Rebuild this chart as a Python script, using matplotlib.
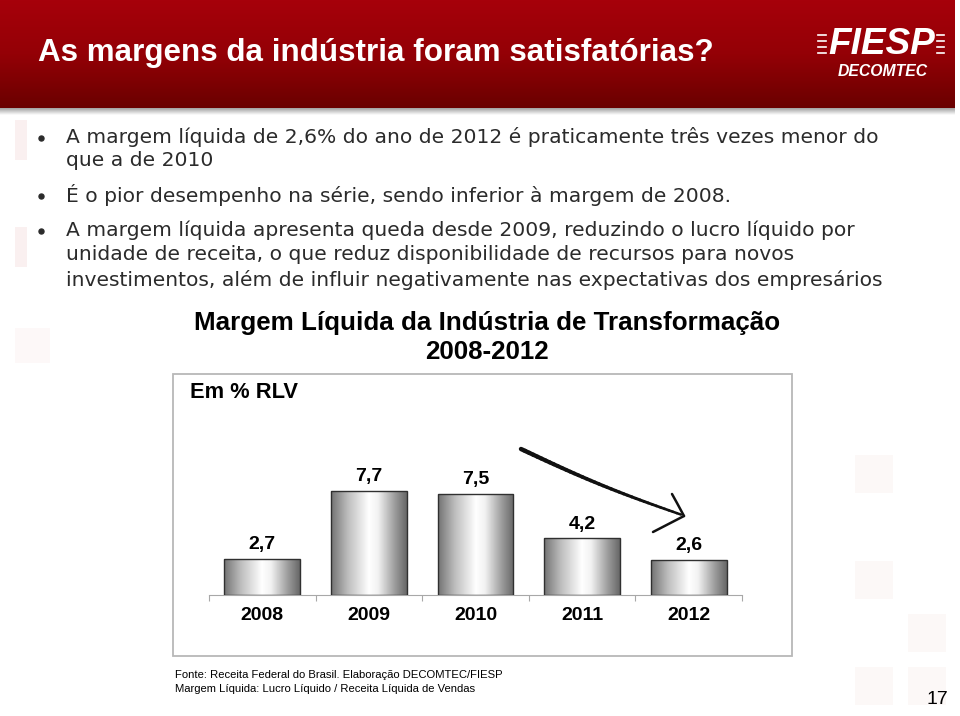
import numpy as np
import matplotlib
matplotlib.use("Agg")
import matplotlib.pyplot as plt
from matplotlib import font_manager
from matplotlib.patches import Rectangle
from matplotlib.collections import LineCollection
from matplotlib.colors import LinearSegmentedColormap

# dados do grafico
anos = ['2008', '2009', '2010', '2011', '2012']
margem = [2.7, 7.7, 7.5, 4.2, 2.6]
rotulos = ['2,7', '7,7', '7,5', '4,2', '2,6']

titulo = 'As margens da indústria foram satisfatórias?'
topicos = [
    ('A margem líquida de 2,6% do ano de 2012 é praticamente três vezes menor do', True, 137),
    ('que a de 2010', False, 160),
    ('É o pior desempenho na série, sendo inferior à margem de 2008.', True, 195),
    ('A margem líquida apresenta queda desde 2009, reduzindo o lucro líquido por', True, 230),
    ('unidade de receita, o que reduz disponibilidade de recursos para novos', False, 255),
    ('investimentos, além de influir negativamente nas expectativas dos empresários', False, 280),
]
titulo_graf = 'Margem Líquida da Indústria de Transformação'
periodo = '2008-2012'
unidade = 'Em % RLV'
fonte = ['Fonte: Receita Federal do Brasil. Elaboração DECOMTEC/FIESP',
         'Margem Líquida: Lucro Líquido / Receita Líquida de Vendas']

nomes = {f.name for f in font_manager.fontManager.ttflist}
estreita = 'Liberation Sans Narrow' if 'Liberation Sans Narrow' in nomes else 'Liberation Sans'
arial = 'Liberation Sans'

W, H = 960, 716
fig = plt.figure(figsize=(W / 100, H / 100), dpi=100)
fig.patch.set_facecolor('white')

# eixo de fundo em pixels
bg = fig.add_axes([0, 0, 1, 1])
bg.set_xlim(0, W)
bg.set_ylim(H, 0)
bg.axis('off')

r = fig.canvas.get_renderer()


def ajusta(t, largura):
    w = t.get_window_extent(r).width
    t.set_fontsize(t.get_fontsize() * largura / w)


# faixa vermelha
grad = np.linspace(0, 1, 100).reshape(-1, 1)
cmap_red = LinearSegmentedColormap.from_list('red', ['#a6000a', '#940006', '#6a0000'])
bg.imshow(grad, cmap=cmap_red, extent=(0, 955, 108, 0), aspect='auto', zorder=1)
sombra = LinearSegmentedColormap.from_list('sh', ['#a0a0a0', '#ffffff'])
bg.imshow(grad, cmap=sombra, extent=(0, 955, 115, 108), aspect='auto', zorder=1)

t = bg.text(38, 53, titulo, color='white', fontsize=26, family=estreita,
            fontweight='bold', va='center', ha='left', zorder=3)
ajusta(t, 674)

# logo
t = bg.text(828, 44, 'FIESP', color='white', fontsize=24, family=arial,
            fontweight='bold', style='italic', va='center', ha='left', zorder=3)
ajusta(t, 107)
for yy in [35, 41, 47, 53]:
    bg.plot([818, 826], [yy, yy], color='white', lw=1.2, zorder=3)
    bg.plot([937, 944], [yy, yy], color='white', lw=1.2, zorder=3)
t = bg.text(838, 72, 'DECOMTEC', color='white', fontsize=12, family=arial,
            fontweight='bold', style='italic', va='center', ha='left', zorder=3)
ajusta(t, 90)

# quadrados claros decorativos
for (x, y, w, h, c) in [(15, 120, 12, 40, '#faf0f0'), (15, 227, 12, 40, '#faf0f0'),
                        (15, 328, 35, 35, '#fdf8f8'),
                        (855, 455, 38, 38, '#fcf8f7'), (855, 561, 38, 38, '#fcf8f7'),
                        (908, 614, 38, 38, '#fcf8f7'), (855, 667, 38, 38, '#fcf8f7'),
                        (908, 667, 38, 38, '#fcf8f7')]:
    bg.add_patch(Rectangle((x, y), w, h, facecolor=c, edgecolor='none', zorder=1))

# topicos
tam = None
for texto, bullet, y in topicos:
    t = bg.text(66, y, texto, color='#2b2b2b', fontsize=14, family='DejaVu Sans',
                va='center', ha='left', zorder=3)
    if tam is None:
        ajusta(t, 814)
        tam = t.get_fontsize()
    t.set_fontsize(tam)
    if bullet:
        bg.plot(41, y + 1, 'o', color='#2b2b2b', ms=3.6, zorder=3)

# titulo do grafico
t = bg.text(487, 323, titulo_graf, color='black', fontsize=18, family=estreita,
            fontweight='bold', va='center', ha='center', zorder=3)
ajusta(t, 587)
t = bg.text(487, 352, periodo, color='black', fontsize=18, family=estreita,
            fontweight='bold', va='center', ha='center', zorder=3)
ajusta(t, 124)

# moldura
bg.add_patch(Rectangle((173, 374), 619, 282, facecolor='none', edgecolor='#b8b8b8',
                       lw=1.3, zorder=2))
t = bg.text(190, 393, unidade, color='black', fontsize=16, family=estreita,
            fontweight='bold', va='center', ha='left', zorder=3)
ajusta(t, 108)

# fonte
for i, linha in enumerate(fonte):
    t = bg.text(175, 675 + 14 * i, linha, color='black', fontsize=8.5, family=arial,
                va='center', ha='left', zorder=3)
    if i == 0:
        ajusta(t, 325)
        tf = t.get_fontsize()
    t.set_fontsize(tf)

bg.text(948, 699, '17', color='black', fontsize=14, family=arial,
        va='center', ha='right', zorder=3)

# seta desenhada a mao
n = 40
xs = np.linspace(521, 681, n)
ys = 449 + (xs - 521) * 0.41 + 3 * np.sin(np.linspace(0, np.pi, n))
pts = np.column_stack([xs, ys]).reshape(-1, 1, 2)
segs = np.concatenate([pts[:-1], pts[1:]], axis=1)
bg.add_collection(LineCollection(segs, linewidths=np.linspace(3.2, 1.8, n - 1),
                                 colors='#111111', capstyle='round', zorder=4))
bg.plot([672, 677, 684], [494, 503, 516], color='#111111', lw=1.8,
        solid_capstyle='round', zorder=4)
bg.plot([684, 653], [516, 532], color='#111111', lw=1.8,
        solid_capstyle='round', zorder=4)

# grafico de barras
x0, x1, base, topo = 209, 742, 595, 400
ppu = 13.5
ax = fig.add_axes([x0 / W, 1 - base / H, (x1 - x0) / W, (base - topo) / H])
ax.patch.set_alpha(0)
pos = np.arange(len(anos))
barras = ax.bar(pos, margem, width=0.71, facecolor='none', edgecolor='#303030',
                lw=1.0, zorder=3)
cmap_bar = LinearSegmentedColormap.from_list(
    'cil', [(0, '#747474'), (0.22, '#bdbdbd'), (0.5, '#ffffff'),
            (0.62, '#f2f2f2'), (0.85, '#9a9a9a'), (1, '#686868')])
horiz = np.linspace(0, 1, 200).reshape(1, -1)
for b in barras:
    im = ax.imshow(horiz, cmap=cmap_bar, aspect='auto', zorder=2,
                   extent=(b.get_x(), b.get_x() + b.get_width(), 0, b.get_height()))
    im.set_clip_path(b)
for p, v, rot in zip(pos, margem, rotulos):
    ax.annotate(rot, (p, v), xytext=(0, 4), textcoords='offset points', ha='center',
                va='bottom', fontsize=14, fontweight='bold', family=estreita)

ax.set_xlim(-0.5, len(anos) - 0.5)
ax.set_ylim(0, (base - topo) / ppu)
for s in ['top', 'right', 'left']:
    ax.spines[s].set_visible(False)
ax.spines['bottom'].set_color('#a8a8a8')
ax.set_yticks([])
ax.set_xticks(np.arange(len(anos) + 1) - 0.5)
ax.set_xticklabels([])
ax.set_xticks(pos, minor=True)
ax.set_xticklabels(anos, minor=True, fontsize=14, fontweight='bold', family=estreita)
ax.tick_params(axis='x', which='major', length=4, color='#a8a8a8')
ax.tick_params(axis='x', which='minor', length=0, pad=9)

fig.savefig('out.png', dpi=100, facecolor='white')
